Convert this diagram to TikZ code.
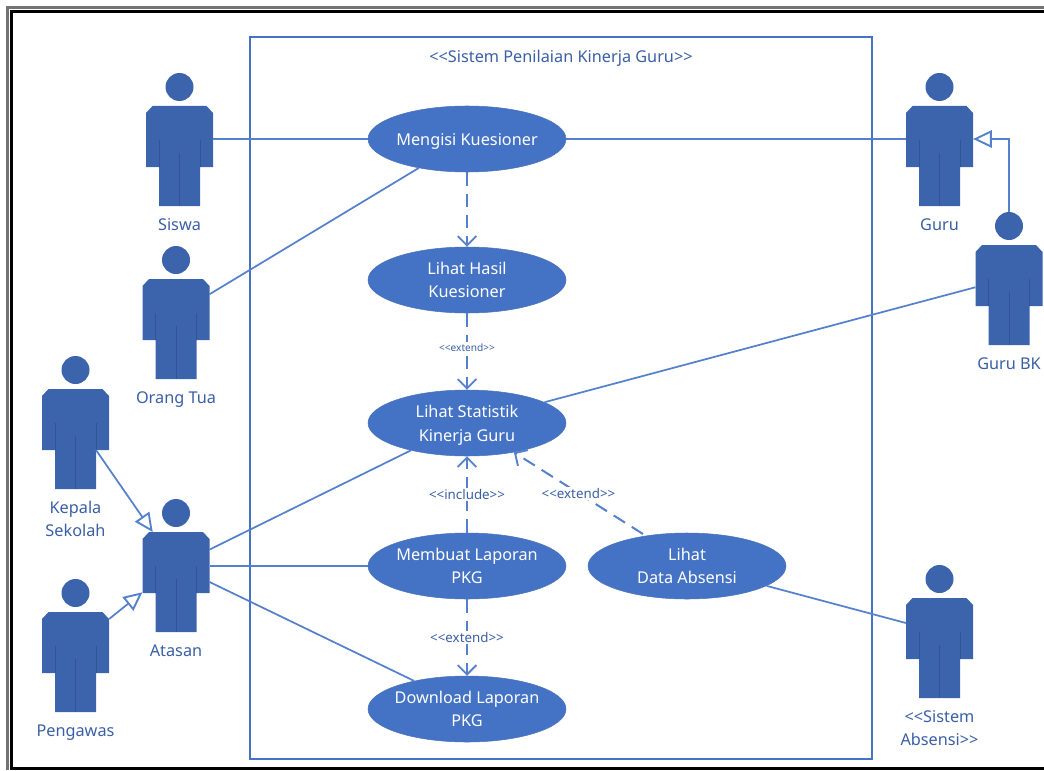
\documentclass[tikz,border=0pt]{standalone}
\usepackage{fontspec}
\setmainfont{Noto Sans}
\usetikzlibrary{arrows.meta,positioning,shapes.geometric}
\definecolor{usecase}{HTML}{4472C4}
\definecolor{actorfill}{HTML}{3C64AC}
\definecolor{actorline}{HTML}{2F5597}
\definecolor{labeltext}{HTML}{3A5FA5}
\definecolor{linkline}{HTML}{5580CC}
\tikzset{
    usecasenode/.style={ellipse, fill=usecase, draw=usecase!85!gray, line width=0.4pt, text=white,
        minimum width=148.5pt, minimum height=49.5pt, inner ysep=0pt, inner xsep=-6pt, align=center, font=\fontsize{12.2}{17.5}\selectfont},
    actorlabel/.style={text=labeltext, align=center, inner sep=0pt, font=\fontsize{12.2}{17.2}\selectfont},
    steotype/.style={text=labeltext, fill=white, inner sep=1pt, font=\fontsize{10}{12}\selectfont},
    assoc/.style={linkline, line width=1.3pt},
    dep/.style={linkline, line width=1.5pt, dash pattern=on 10pt off 6pt, -{Straight Barb[length=7pt,width=14pt,line width=1.4pt]}},
    gen/.style={linkline, line width=1.3pt, -{Triangle[open,fill=white,length=14pt,width=13pt,line width=1.4pt]}},
    actor/.pic={
        \node[circle, fill=actorfill, minimum size=21pt, inner sep=0pt] (-head) at (0,0) {};
        \node[minimum width=50.4pt, minimum height=75pt, inner sep=0pt, outer sep=0pt] (-body) at (0,69) {};
        \fill[actorfill] (-27,19) -- (27,19) -- (33.5,26) -- (33.5,80) -- (20.5,80) -- (20.5,119) -- (-20.5,119) -- (-20.5,80) -- (-33.5,80) -- (-33.5,26) -- cycle;
        \draw[actorline, line width=0.6pt] (-20.5,53) -- (-20.5,80) (20.5,53) -- (20.5,80) (0,66) -- (0,119);
    }
}

\begin{document}
\begin{tikzpicture}[x=0.75pt, y=-0.75pt]
    \useasboundingbox (0,0) rectangle (1044,770);
    % page frame
    \draw[gray!90!black, line width=2.4pt] (7.5,770) -- (7.5,7.5) -- (1044,7.5);
    \draw[black, line width=2.2pt] (1044,11.5) -- (11.5,11.5) -- (11.5,768.5) -- (1044,768.5);
    % system
    \draw[usecase, line width=0.8pt] (250,37) rectangle (872,759);
    \node[actorlabel] (title) at (561,58) {<{}<Sistem Penilaian Kinerja Guru>{}>};

    % use cases
    \node[usecasenode] (mengisi) at (467,139) {\rule{0pt}{12.5pt}Mengisi Kuesioner};
    \node[usecasenode] (hasil) at (467,280) {Lihat Hasil\\Kuesioner};
    \node[usecasenode] (statistik) at (467,423) {\rule{0pt}{12.5pt}Lihat Statistik\\Kinerja Guru};
    \node[usecasenode] (laporan) at (467,566) {Membuat Laporan\\PKG};
    \node[usecasenode] (download) at (467,709) {Download Laporan\\PKG};
    \node[usecasenode] (absensi) at (687,566) {Lihat\\Data Absensi};

    % actors
    \pic (siswa) at (179.5,87) {actor};
    \pic (orangtua) at (176,260) {actor};
    \pic (kepala) at (75.5,370) {actor};
    \pic (atasan) at (176,513) {actor};
    \pic (pengawas) at (75.5,593) {actor};
    \pic (guru) at (939.5,87) {actor};
    \pic (gurubk) at (1009,226) {actor};
    \pic (sistem) at (939.5,579) {actor};
    \coordinate (kepalaarm) at (96,450);

    % actor names
    \node[actorlabel, below=9.5pt of siswa-body] (siswaname) {Siswa};
    \node[actorlabel, below=9.5pt of orangtua-body] (orangtuaname) {Orang Tua};
    \node[actorlabel, below=9pt of kepala-body] (kepalaname) {Kepala\\Sekolah};
    \node[actorlabel, below=9.5pt of atasan-body] (atasanname) {Atasan};
    \node[actorlabel, below=9.5pt of pengawas-body] (pengawasname) {Pengawas};
    \node[actorlabel, below=9.5pt of guru-body] (guruname) {Guru};
    \node[actorlabel, below=9.5pt of gurubk-body] (gurubkname) {Guru BK};
    \node[actorlabel, below=9.5pt of sistem-body] (sistemname) {<{}<Sistem\\Absensi>{}>};

    % associations
    \draw[assoc] (siswa-body.east |- mengisi) -- (mengisi.west);
    \draw[assoc] (orangtua-body.46) -- (mengisi.-149);
    \draw[assoc] (mengisi.east) -- (guru-body.west |- mengisi);
    \draw[assoc] (statistik.15) -- (gurubk-body.167);
    \draw[assoc] (atasan-body.44) -- (statistik.206);
    \draw[assoc] (atasan-body.east |- laporan) -- (laporan.west);
    \draw[assoc] (atasan-body.east) -- (download.152);
    \draw[assoc] (absensi.-14) -- (sistem-body.west |- 0,623);

    % generalizations
    \draw[gen] (kepalaarm) -- (atasan-body.115);
    \draw[gen] (pengawas-body.52) -- (atasan-body.197);
    \draw[gen] (gurubk-head.north) |- (guru-body.east |- mengisi);

    % dependencies
    \draw[dep] (mengisi.south) -- (hasil.north);
    \draw[dep] (hasil.south) -- (statistik.north) node[pos=0.45, steotype, font=\fontsize{7.6}{9}\selectfont] (extendone) {<{}<extend>{}>};
    \draw[dep] (laporan.north) -- (statistik.south) node[pos=0.5, steotype] (includeone) {<{}<include>{}>};
    \coordinate (absensitop) at (643,534);
    \draw[dep] (absensitop) -- (statistik.-32) node[pos=0.5, steotype] (extendtwo) {<{}<extend>{}>};
    \draw[dep] (laporan.south) -- (download.north) node[pos=0.5, steotype] (extendthree) {<{}<extend>{}>};
\end{tikzpicture}
\end{document}
